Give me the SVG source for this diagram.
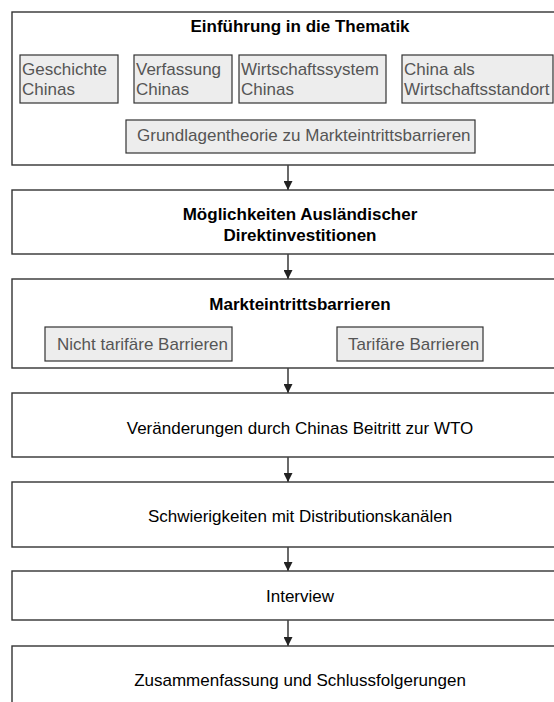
<svg xmlns="http://www.w3.org/2000/svg" width="554" height="702" viewBox="0 0 554 702">
<style>
.box{fill:#ffffff;stroke:#333333;stroke-width:1.4}
.sub{fill:#ededed;stroke:#333333;stroke-width:1.2}
.t{font-family:"Liberation Sans",Arial,sans-serif;font-size:17px;fill:#000000}
.b{font-weight:bold;text-anchor:middle}
.c{text-anchor:middle}
.s{font-family:"Liberation Sans",Arial,sans-serif;font-size:17px;fill:#555555}
.con{stroke:#444444;stroke-width:1.6;fill:none}
</style>
<defs>
<marker id="ah" viewBox="0 0 10 10" refX="10" refY="5" markerWidth="9" markerHeight="9" markerUnits="userSpaceOnUse" orient="auto">
<path d="M0,0 L10,5 L0,10 Z" fill="#222222"/>
</marker>
</defs>
<rect width="554" height="702" fill="#ffffff"/>
<g id="n1">
<rect class="box" x="12" y="12" width="576" height="153"/>
<text class="t b" x="300" y="32">Einführung in die Thematik</text>
</g>
<g id="n1a">
<rect class="sub" x="20" y="55" width="98" height="48"/>
<text class="s" x="22" y="75">Geschichte</text>
<text class="s" x="22" y="95">Chinas</text>
</g>
<g id="n1b">
<rect class="sub" x="134" y="55" width="98" height="48"/>
<text class="s" x="136" y="75">Verfassung</text>
<text class="s" x="136" y="95">Chinas</text>
</g>
<g id="n1c">
<rect class="sub" x="239" y="55" width="147" height="48"/>
<text class="s" x="241" y="75">Wirtschaftssystem</text>
<text class="s" x="241" y="95">Chinas</text>
</g>
<g id="n1d">
<rect class="sub" x="402" y="55" width="151" height="48"/>
<text class="s" x="404" y="75">China als</text>
<text class="s" x="404" y="95">Wirtschaftsstandort</text>
</g>
<g id="n1e">
<rect class="sub" x="126" y="120" width="349" height="33"/>
<text class="s" x="137" y="141">Grundlagentheorie zu Markteintrittsbarrieren</text>
</g>
<g id="n2">
<rect class="box" x="12" y="190" width="576" height="64"/>
<text class="t b" x="300" y="220">Möglichkeiten Ausländischer</text>
<text class="t b" x="300" y="241">Direktinvestitionen</text>
</g>
<g id="n3">
<rect class="box" x="12" y="279" width="576" height="89"/>
<text class="t b" x="300" y="310">Markteintrittsbarrieren</text>
</g>
<g id="n3a">
<rect class="sub" x="45" y="327" width="187" height="34"/>
<text class="s" x="57" y="350">Nicht tarifäre Barrieren</text>
</g>
<g id="n3b">
<rect class="sub" x="337" y="327" width="146" height="34"/>
<text class="s" x="348" y="350">Tarifäre Barrieren</text>
</g>
<g id="n4">
<rect class="box" x="12" y="393" width="576" height="64"/>
<text class="t c" x="300" y="434">Veränderungen durch Chinas Beitritt zur WTO</text>
</g>
<g id="n5">
<rect class="box" x="12" y="482" width="576" height="65"/>
<text class="t c" x="300" y="522">Schwierigkeiten mit Distributionskanälen</text>
</g>
<g id="n6">
<rect class="box" x="12" y="571" width="576" height="49"/>
<text class="t c" x="300" y="602">Interview</text>
</g>
<g id="n7">
<rect class="box" x="12" y="646" width="576" height="70"/>
<text class="t c" x="300" y="686">Zusammenfassung und Schlussfolgerungen</text>
</g>
<g id="connectors">
<line class="con" x1="288" y1="165" x2="288" y2="190" marker-end="url(#ah)"/>
<line class="con" x1="288" y1="254" x2="288" y2="279" marker-end="url(#ah)"/>
<line class="con" x1="288" y1="368" x2="288" y2="393" marker-end="url(#ah)"/>
<line class="con" x1="288" y1="457" x2="288" y2="482" marker-end="url(#ah)"/>
<line class="con" x1="288" y1="547" x2="288" y2="571" marker-end="url(#ah)"/>
<line class="con" x1="288" y1="620" x2="288" y2="646" marker-end="url(#ah)"/>
</g>
</svg>
